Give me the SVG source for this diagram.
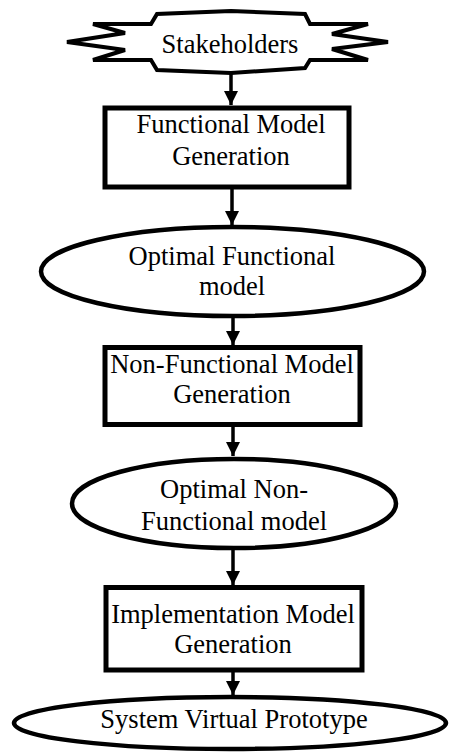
<svg xmlns="http://www.w3.org/2000/svg" width="450" height="753" viewBox="0 0 450 753">
  <style>
    .shape { fill: #ffffff; stroke: #000000; stroke-linejoin: miter; }
    .box { stroke-width: 5; }
    .oval { stroke-width: 4.5; }
    .label { font-family: "Liberation Serif", "Times New Roman", serif; font-size: 26.5px; fill: #000000; text-anchor: middle; }
    .link { stroke: #000000; stroke-width: 3.5; fill: none; }
  </style>
  <defs>
    <marker id="arrow" viewBox="0 0 10 10" refX="10" refY="5" markerUnits="userSpaceOnUse" markerWidth="14" markerHeight="14" orient="auto">
      <path d="M0,0 L10,5 L0,10 Z" fill="#000000"/>
    </marker>
  </defs>

  <!-- flow connectors -->
  <g id="connectors">
    <line class="link" x1="231" y1="72" x2="231" y2="105" marker-end="url(#arrow)"/>
    <line class="link" x1="232" y1="189" x2="232" y2="225" marker-end="url(#arrow)"/>
    <line class="link" x1="233" y1="318" x2="233" y2="345" marker-end="url(#arrow)"/>
    <line class="link" x1="233" y1="426" x2="233" y2="456" marker-end="url(#arrow)"/>
    <line class="link" x1="233" y1="550" x2="233" y2="585" marker-end="url(#arrow)"/>
    <line class="link" x1="233" y1="672" x2="233" y2="695" marker-end="url(#arrow)"/>
  </g>

  <g id="stakeholders">
    <path class="shape" stroke-width="4" d="M67,42 L125,33 L93,24 L151,24 L157,14 L231,11 L305,14 L310,24 L368,24 L332,34 L388,42 L332,49 L368,60 L310,60 L305,68 L231,73 L157,70 L151,60 L93,60 L125,50 Z"/>
    <text class="label" x="230" y="53">Stakeholders</text>
  </g>

  <g id="functional-model-generation">
    <rect class="shape box" x="105" y="108" width="244" height="79"/>
    <text class="label" x="231" y="133">Functional Model</text>
    <text class="label" x="231" y="165">Generation</text>
  </g>

  <g id="optimal-functional-model">
    <ellipse class="shape oval" cx="232.5" cy="271.5" rx="191.5" ry="44.5"/>
    <text class="label" x="232" y="265">Optimal Functional</text>
    <text class="label" x="232" y="295">model</text>
  </g>

  <g id="non-functional-model-generation">
    <rect class="shape box" x="105" y="347.5" width="255" height="77"/>
    <text class="label" x="232" y="373">Non-Functional Model</text>
    <text class="label" x="232" y="403">Generation</text>
  </g>

  <g id="optimal-non-functional-model">
    <ellipse class="shape oval" cx="234" cy="503.5" rx="162" ry="44.5"/>
    <text class="label" x="234" y="498">Optimal Non-</text>
    <text class="label" x="234" y="530">Functional model</text>
  </g>

  <g id="implementation-model-generation">
    <rect class="shape box" x="106" y="587.5" width="256" height="82.5"/>
    <text class="label" x="233" y="623">Implementation Model</text>
    <text class="label" x="233" y="653">Generation</text>
  </g>

  <g id="system-virtual-prototype">
    <ellipse class="shape oval" cx="230" cy="723" rx="216" ry="26"/>
    <text class="label" x="234" y="728">System Virtual Prototype</text>
  </g>
</svg>
